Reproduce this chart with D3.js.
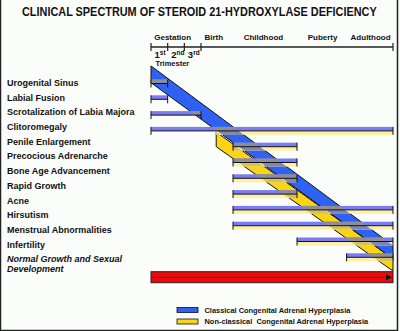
<!DOCTYPE html>
<html>
<head>
<meta charset="utf-8">
<script src="https://cdn.jsdelivr.net/npm/d3@7/dist/d3.min.js"></script>
<style>
  html, body { margin: 0; padding: 0; background: #fbfdfb; }
  svg { display: block; }
  text { font-family: "Liberation Sans", Arial, Helvetica, sans-serif; fill: #111; }
</style>
</head>
<body>
<svg id="chart" width="400" height="331"></svg>
<script>
// Timeline units: 0–3 are the trimesters of gestation, 3 is birth, 15 is the end of adulthood.
const phaseLabels = ["Gestation", "Birth", "Childhood", "Puberty", "Adulthood"];
const phasePositions = [1.3, 3.8, 6.9, 10.6, 13.6];
const trimesterTicks = [0, 1, 2, 3, 15];
const trimesterNumbers = ["1", "2", "3"];
const trimesterSuffixes = ["st", "nd", "rd"];

const features = [
  "Urogenital Sinus", "Labial Fusion", "Scrotalization of Labia Majora",
  "Clitoromegaly", "Penile Enlargement", "Precocious Adrenarche",
  "Bone Age Advancement", "Rapid Growth", "Acne", "Hirsutism",
  "Menstrual Abnormalities", "Infertility"
];
// Onset and end of each feature, classical form
const classicalStart = [0, 0, 0, 0, 5, 5, 5, 5, 5, 5, 9, 12.1];
const classicalEnd   = [1, 1, 3, 15, 9, 9, 9, 9, 15, 15, 15, 15];
// Onset and end of each feature, non-classical form (null = not seen)
const nonClassicalStart = [null, null, null, 3.95, 5, 5, 5, 5, 5, 5, 9, 12.1];
const nonClassicalEnd   = [null, null, null, 15, 9, 9, 9, 9, 15, 15, 15, 15];

const normalLabel = ["Normal Growth and Sexual", "Development"];
const normalRange = [0, 15];

// Diagonal spectrum bands as [timeline, feature row] corners
const classicalBand = [[0, -1.11], [15, 10.25], [15, 11.1], [0, -0.05]];
const nonClassicalBand = [[3.95, 3.07], [15, 11.1], [15, 11.87], [3.95, 4.0]];

const legendLabels = ["Classical Congenital Adrenal Hyperplasia",
                      "Non-classical  Congenital Adrenal Hyperplasia"];

const colors = {
  bandBlue: "#2f62f2", bandYellow: "#fbd414",
  barBlue: "#7c7cf2", barYellow: "#fdf0a4",
  overlap: "#8e8e98", red: "#ee0a0a", redLine: "#a80000"
};

const svg = d3.select("#chart");

const x = d3.scaleLinear().domain([0, 3, 15]).range([151, 201, 393]);
const yRow = d3.scaleLinear().domain([0, 11]).range([83.5, 257.3]);
const yLabel = d3.scaleLinear().domain([0, 12]).range([85.9, 262.3]);

// squeeze a text horizontally to a given width, anchored at its left edge
function fitWidth(sel, left, width) {
  const w = sel.node().getComputedTextLength();
  const k = Math.min(1, width / w);
  sel.attr("x", 0).attr("transform", `translate(${left},0) scale(${k},1)`);
}

// frame
svg.append("path")
  .attr("d", "M0.5,0 V330.5 H397.5 V0")
  .attr("fill", "none").attr("stroke", "#222").attr("stroke-width", 1.5);

// title
const title = svg.append("text")
  .attr("y", 16)
  .style("font-size", "12.4px").style("font-weight", "bold")
  .text("CLINICAL SPECTRUM OF STEROID 21-HYDROXYLASE DEFICIENCY");
fitWidth(title, 22, 355);

// timeline axis
const axisY = 47;
svg.append("line")
  .attr("x1", x(0)).attr("x2", x(15)).attr("y1", axisY).attr("y2", axisY)
  .attr("stroke", "#222").attr("stroke-width", 1.3);
svg.selectAll(".atick").data(trimesterTicks).join("line")
  .attr("x1", d => x(d)).attr("x2", d => x(d))
  .attr("y1", axisY - 4).attr("y2", axisY + 4)
  .attr("stroke", "#222").attr("stroke-width", 1.2);

svg.selectAll(".phase").data(phaseLabels).join("text")
  .attr("x", (d, i) => x(phasePositions[i])).attr("y", 40)
  .attr("text-anchor", "middle")
  .style("font-size", "8px").style("font-weight", "bold")
  .text(d => d);

const tri = svg.selectAll(".tri").data(trimesterNumbers).join("text")
  .attr("x", (d, i) => x(i) + 3.5).attr("y", 58)
  .style("font-size", "9.5px").style("font-weight", "bold");
tri.append("tspan").text(d => d);
tri.append("tspan").attr("dy", -3.5).style("font-size", "6.5px")
  .text((d, i) => trimesterSuffixes[i]);

svg.append("text")
  .attr("x", x(0) + 4.5).attr("y", 65.5)
  .style("font-size", "7.5px").style("font-weight", "bold")
  .text("Trimester");

// feature labels
svg.selectAll(".flabel").data(features).join("text")
  .attr("x", 7).attr("y", (d, i) => yLabel(i))
  .style("font-size", "9px").style("font-weight", "bold")
  .text(d => d);
svg.selectAll(".nlabel").data(normalLabel).join("text")
  .attr("x", 7).attr("y", (d, i) => yLabel(12) + i * 10)
  .style("font-size", "9px").style("font-weight", "bold").style("font-style", "italic")
  .text(d => d);

// band polygons and clips
const bandPath = pts => "M" + pts.map(p => x(p[0]) + "," + yRow(p[1])).join("L") + "Z";
const defs = svg.append("defs");
defs.append("clipPath").attr("id", "clipClassical").append("path").attr("d", bandPath(classicalBand));
defs.append("clipPath").attr("id", "clipNonClassical").append("path").attr("d", bandPath(nonClassicalBand));

svg.append("path").attr("d", bandPath(nonClassicalBand))
  .attr("fill", colors.bandYellow).attr("stroke", "#111").attr("stroke-width", 1);
svg.append("path").attr("d", bandPath(classicalBand))
  .attr("fill", colors.bandBlue).attr("stroke", "#111").attr("stroke-width", 1);

// feature bars
const rows = features.map((f, i) => ({
  i,
  c0: classicalStart[i], c1: classicalEnd[i],
  n0: nonClassicalStart[i], n1: nonClassicalEnd[i]
}));
const barH = 4;

function drawBars(g, fillBlue, fillYellow) {
  g.selectAll(".cbar").data(rows).join("rect")
    .attr("x", d => x(d.c0)).attr("width", d => x(d.c1) - x(d.c0))
    .attr("y", d => yRow(d.i) - barH).attr("height", barH)
    .attr("fill", fillBlue);
  g.selectAll(".nbar").data(rows.filter(d => d.n0 !== null)).join("rect")
    .attr("x", d => x(d.n0)).attr("width", d => x(d.n1) - x(d.n0))
    .attr("y", d => yRow(d.i)).attr("height", barH)
    .attr("fill", fillYellow);
}
drawBars(svg.append("g"), colors.barBlue, colors.barYellow);
drawBars(svg.append("g").attr("clip-path", "url(#clipClassical)"), colors.overlap, "#7f88b0");
drawBars(svg.append("g").attr("clip-path", "url(#clipNonClassical)"), colors.overlap, "#d8c060");

// range lines with end ticks
const lineG = svg.append("g").attr("stroke", "#111").attr("stroke-width", 1);
rows.forEach(d => {
  const lo = d.n0 === null ? d.c0 : Math.min(d.c0, d.n0);
  const hi = d.n1 === null ? d.c1 : Math.max(d.c1, d.n1);
  const y = yRow(d.i);
  lineG.append("line").attr("x1", x(lo)).attr("x2", x(hi)).attr("y1", y).attr("y2", y);
  [lo, hi].forEach(v => lineG.append("line")
    .attr("x1", x(v)).attr("x2", x(v)).attr("y1", y - 4).attr("y2", y + 4));
});

// normal growth bar
const redTop = yRow(11) + 14.4;
svg.append("rect")
  .attr("x", x(normalRange[0])).attr("width", x(normalRange[1]) - x(normalRange[0]))
  .attr("y", redTop).attr("height", 11)
  .attr("fill", colors.red).attr("stroke", "#222").attr("stroke-width", 1);
svg.append("line")
  .attr("x1", x(normalRange[0]) + 1).attr("x2", x(normalRange[1]) - 6)
  .attr("y1", redTop + 5.5).attr("y2", redTop + 5.5)
  .attr("stroke", colors.redLine).attr("stroke-width", 1);
svg.append("path")
  .attr("d", `M${x(normalRange[1]) - 7},${redTop + 2.5} L${x(normalRange[1]) - 1},${redTop + 5.5} L${x(normalRange[1]) - 7},${redTop + 8.5}Z`)
  .attr("fill", "#111");

// legend
const legend = svg.append("g");
const legendFills = [colors.bandBlue, colors.bandYellow];
const legendWidths = [146, 164];
legendLabels.forEach((t, i) => {
  const yy = 307.5 + i * 11.5;
  legend.append("rect").attr("x", 177).attr("y", yy).attr("width", 21).attr("height", 5)
    .attr("fill", legendFills[i]).attr("stroke", "#111").attr("stroke-width", 0.8);
  const lt = legend.append("text").attr("y", yy + 5.5)
    .style("font-size", "8px").style("font-weight", "bold")
    .style("white-space", "pre")
    .text(t);
  fitWidth(lt, 204.5, legendWidths[i]);
});
</script>
</body>
</html>
